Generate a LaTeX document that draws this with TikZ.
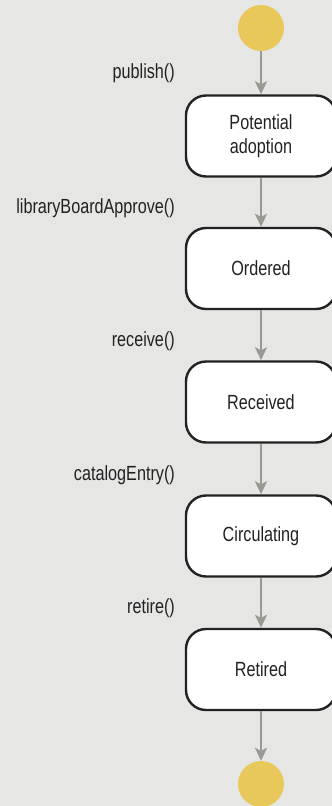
\documentclass[tikz,border=0pt]{standalone}
\usepackage{fontspec}
\setmainfont{Liberation Sans}[FakeStretch=0.79]
\usetikzlibrary{arrows.meta}
\definecolor{bg}{HTML}{E6E6E4}
\definecolor{dot}{HTML}{E8C85A}
\definecolor{arr}{HTML}{9A9A92}
\definecolor{ink}{HTML}{222222}
\tikzset{
  state/.style={draw=ink, line width=2.4pt, fill=white, rounded corners=20pt,
    minimum width=150pt, minimum height=81pt, align=center, inner sep=0pt,
    font=\fontsize{20.5}{24}\selectfont, text=ink},
  pseudo/.style={circle, fill=dot, minimum size=46pt, inner sep=0pt},
  trans/.style={draw=arr, line width=2pt, -{Stealth[length=13pt,width=12pt,inset=3pt]}},
  lbl/.style={anchor=east, font=\fontsize{20.5}{24}\selectfont, text=ink, inner sep=0pt}
}
\begin{document}
\begin{tikzpicture}[x=1pt,y=-1pt]
\fill[bg] (0,0) rectangle (332,806);
\useasboundingbox (0,0) rectangle (332,806);
\node[pseudo] (start) at (261,28) {};
\node[state] (s1) at (261,136) {Potential\\adoption};
\node[state] (s2) at (261,268.5) {Ordered};
\node[state] (s3) at (261,402) {Received};
\node[state] (s4) at (261,536) {Circulating};
\node[state] (s5) at (261,669.5) {Retired};
\node[pseudo] (end) at (261,784) {};
\draw[trans] (start) -- (s1);
\draw[trans] (s1) -- (s2);
\draw[trans] (s2) -- (s3);
\draw[trans] (s3) -- (s4);
\draw[trans] (s4) -- (s5);
\draw[trans] (s5) -- (end);
\node[lbl] (l1) at (175,73) {publish()};
\node[lbl] (l2) at (175,208) {libraryBoardApprove()};
\node[lbl] (l3) at (175,341) {receive()};
\node[lbl] (l4) at (175,475) {catalogEntry()};
\node[lbl] (l5) at (175,608) {retire()};
\end{tikzpicture}
\end{document}
